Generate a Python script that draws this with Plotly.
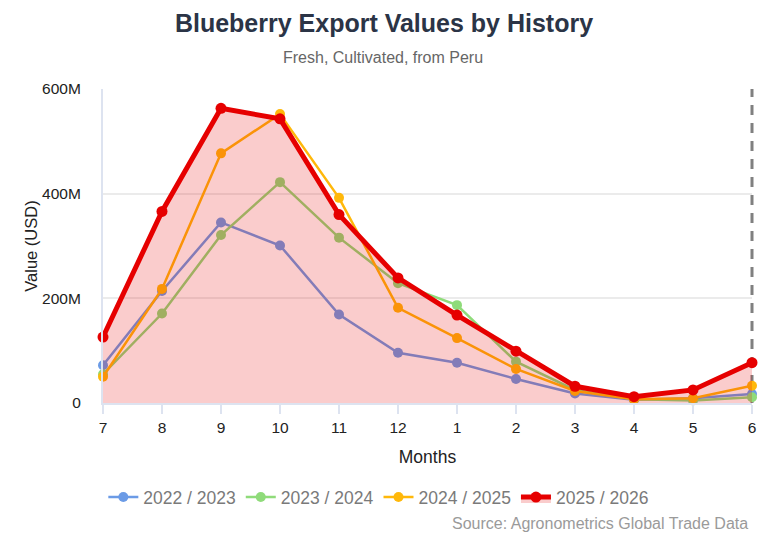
import plotly.graph_objects as go

months = ["7", "8", "9", "10", "11", "12", "1", "2", "3", "4", "5", "6"]
series_names = ["2022 / 2023", "2023 / 2024", "2024 / 2025", "2025 / 2026"]
v_2022 = [72, 214, 345, 301, 169, 96, 77, 46, 18, 6, 9, 17]
v_2023 = [55, 171, 321, 422, 316, 229, 187, 79, 25, 7, 5, 11]
v_2024 = [50, 218, 477, 552, 392, 182, 124, 65, 23, 7, 9, 33]
v_2025 = [126, 366, 563, 543, 360, 239, 168, 99, 32, 12, 25, 77]
y_ticks = [0, 200e6, 400e6, 600e6]
y_tick_labels = ["0", "200M", "400M", "600M"]

colors = ["#6b9be6", "#8fdb7a", "#ffb80a", "#e60000"]
FONT = "Liberation Sans, Arial, sans-serif"

fig = go.Figure()
xs = list(range(len(months)))
for name, vals, col in zip(series_names[:3], [v_2022, v_2023, v_2024], colors[:3]):
    fig.add_trace(go.Scatter(
        x=xs, y=[v * 1e6 for v in vals], name=name, mode="lines+markers",
        line=dict(color=col, width=2.5), marker=dict(color=col, size=10),
        cliponaxis=False,
    ))
fig.add_trace(go.Scatter(
    x=xs, y=[v * 1e6 for v in v_2025], name=series_names[3], mode="lines+markers",
    line=dict(color=colors[3], width=5), marker=dict(color=colors[3], size=11),
    fill="tozeroy", fillcolor="rgba(230,0,0,0.2)", cliponaxis=False,
))

# dashed marker line at the last month (right edge of the plot)
fig.add_shape(type="line", xref="paper", yref="paper", x0=1, x1=1, y0=0, y1=1,
              layer="below", line=dict(color="#808080", width=3, dash="10px,8px"))

fig.update_layout(
    width=768, height=538,
    margin=dict(l=103, r=13, t=89, b=135),
    paper_bgcolor="white", plot_bgcolor="white",
    font=dict(family=FONT, color="#333333", size=15),
    title=dict(text="<b>Blueberry Export Values by History</b>", x=0.5, xanchor="center",
               y=1 - 23 / 538, yanchor="middle", font=dict(size=25, color="#2b3446", family=FONT)),
    showlegend=True,
    legend=dict(orientation="h", x=0.425, xanchor="center", y=-0.30, yanchor="middle",
                font=dict(size=17.5, color="#7a7a7a", family=FONT)),
    xaxis=dict(
        tickmode="array", tickvals=xs, ticktext=months, range=[0, 11],
        showgrid=False, showline=True, linecolor="#dde3f0", linewidth=2,
        ticks="outside", ticklen=9, tickcolor="#dde3f0", tickwidth=2,
        tickfont=dict(size=15.5, color="#222222"),
        title=dict(text="Months", font=dict(size=17.5, color="#222222"), standoff=16),
        zeroline=False,
    ),
    yaxis=dict(
        tickmode="array", tickvals=y_ticks, ticktext=y_tick_labels, range=[0, 600e6],
        showgrid=True, gridcolor="#ebebeb", gridwidth=1.5,
        showline=True, linecolor="#dde3f0", linewidth=2,
        ticks="", ticklabelstandoff=17,
        tickfont=dict(size=15.5, color="#222222"),
        title=dict(text="Value (USD)", font=dict(size=16.5, color="#222222"), standoff=0),
        zeroline=False,
    ),
    annotations=[
        dict(text="Fresh, Cultivated, from Peru", xref="paper", yref="paper",
             x=(384 - 103) / 652, xanchor="center", y=1 + (89 - 58) / 314, yanchor="middle",
             showarrow=False, font=dict(size=16, color="#666666", family=FONT)),
        dict(text="Source: Agronometrics Global Trade Data", xref="paper", yref="paper",
             x=0.997, xanchor="right", y=-(523 - 403) / 314, yanchor="middle",
             showarrow=False, font=dict(size=16, color="#9a9a9a", family=FONT)),
    ],
)

fig.write_html("out.html")
